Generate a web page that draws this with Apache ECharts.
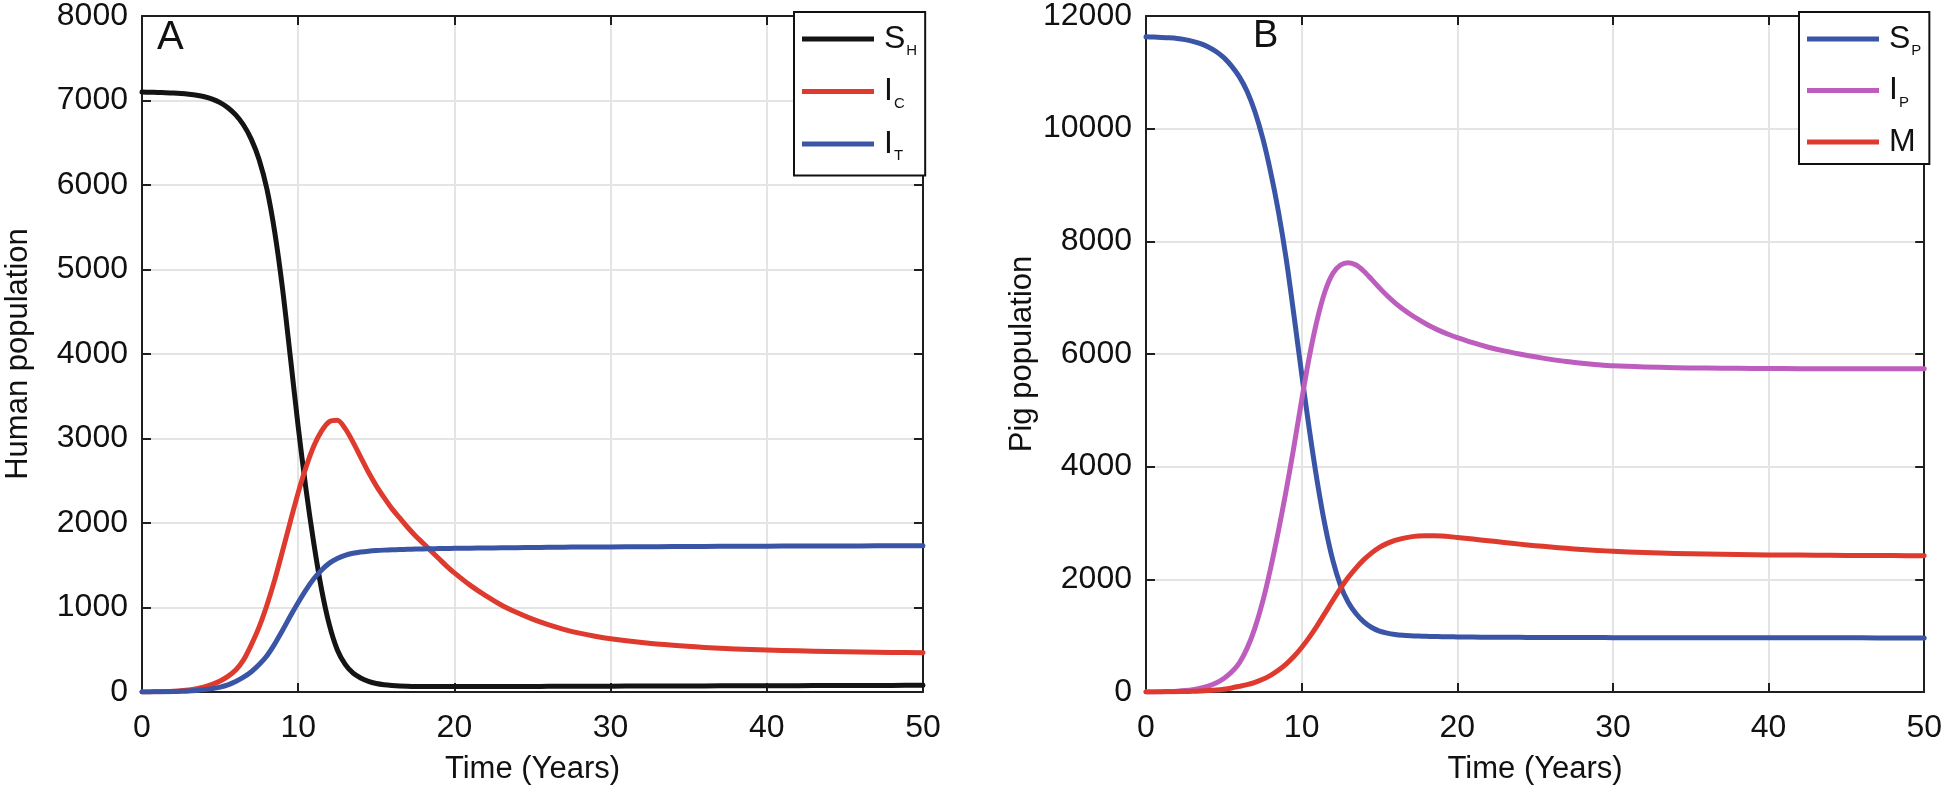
<!DOCTYPE html>
<html>
<head>
<meta charset="utf-8">
<script src="https://cdn.jsdelivr.net/npm/echarts@6/dist/echarts.min.js"></script>
<style>html,body{margin:0;padding:0;background:#fff;}#c{width:1945px;height:792px;}</style>
</head>
<body>
<div id="c"></div>
<script>
// ---- data ----
const tA = [0,0.5,1,1.5,2,2.5,3,3.5,4,4.5,5,5.5,6,6.5,7,7.5,8,8.5,9,9.5,10,10.5,11,11.5,12,12.5,13,13.5,14,14.5,15,15.5,16,16.5,17,17.5,18,18.5,19,19.5,20,21,22,23,24,25,26,27,28,29,30,32,34,36,38,40,42,44,46,48,50];
const SH = [7100,7098,7096,7093,7089,7083,7074,7062,7044,7016,6975,6915,6830,6710,6540,6300,5950,5440,4770,3960,3140,2400,1760,1210,790,500,330,225,165,125,100,85,76,70,67,65,64,64,64,64,64,
            64,65,65,66,66,67,67,68,68,69, 70,71,72,73,74,75,76,77,78,79];
const IC = [0,1,3,6,10,16,25,40,60,90,130,185,260,380,560,770,1030,1330,1670,2020,2360,2660,2910,3090,3200,3215,3120,2960,2780,2600,2440,2300,2170,2060,1950,1850,1760,1670,1580,1490,1410,
            1265,1140,1030,940,862,797,742,697,660,630, 585,552,528,510,497,487,479,473,468,464];
const IT = [0,1,2,3,5,8,12,19,28,40,58,85,125,175,240,325,430,570,730,900,1060,1210,1340,1445,1525,1580,1618,1642,1657,1667,1674,1679,1683,1686,1689,1691,1693,1695,1697,1699,1700,
            1702,1704,1706,1708,1710,1712,1714,1715,1716,1717, 1719,1721,1723,1725,1726,1727,1728,1729,1730,1731];

const tB = [0,0.5,1,1.5,2,2.5,3,3.5,4,4.5,5,5.5,6,6.5,7,7.5,8,8.5,9,9.5,10,10.5,11,11.5,12,12.5,13,13.5,14,14.5,15,15.5,16,16.5,17,17.5,18,18.5,19,19.5,20,21,22,23,24,25,26,27,28,29,30,32,34,36,38,40,42,44,46,48,50];
const SP = [11630,11626,11620,11612,11600,11580,11550,11510,11450,11370,11260,11110,10920,10660,10300,9830,9240,8540,7700,6700,5650,4650,3740,2960,2340,1890,1590,1390,1245,1145,1080,1045,1022,1007,998,992,988,985,982,980,978,
            975,973,971,970,969,968,967,966,966,965, 965,964,963,963,962,962,961,961,960,960];
const IP = [0,2,5,9,15,25,41,66,104,159,239,354,519,779,1139,1609,2189,2849,3569,4349,5179,5959,6609,7109,7429,7579,7619,7579,7469,7324,7174,7034,6909,6799,6701,6613,6533,6461,6397,6341,6291,
            6200,6120,6055,6000,5950,5905,5865,5835,5810,5790, 5770,5758,5750,5745,5742,5740,5740,5740,5740,5740];
const MM = [0,1,2,4,6,9,13,18,25,35,50,72,100,130,170,225,295,385,495,630,790,975,1180,1400,1625,1840,2035,2205,2350,2470,2568,2638,2690,2728,2754,2769,2775,2775,2769,2758,2743,
            2715,2685,2655,2625,2598,2573,2550,2530,2513,2498, 2475,2460,2448,2440,2434,2430,2426,2423,2421,2420];

const xTicks = {min:0, max:50, interval:10};
const yTicksA = {min:0, max:8000, interval:1000};
const yTicksB = {min:0, max:12000, interval:2000};

const panelLabels = ['A','B'];
const yNames = ['Human population','Pig population'];
const xName = 'Time (Years)';
const legendText = {
  'S_H': '{b|S}{s|H}', 'I_C': '{b|I}{s|C}', 'I_T': '{b|I}{s|T}',
  'S_P': '{b|S}{s|P}', 'I_P': '{b|I}{s|P}', 'M': '{b|M}'
};
// ---- chart ----
const FONT = 'Liberation Sans, Arial, Helvetica, sans-serif';
const AX = '#1f1f1f';
const zip = (t, v) => t.map((x, i) => [x, v[i]]);
const plain = (v) => String(v);

function xAxes(gi) {
  return [
    {type:'value', gridIndex:gi, position:'bottom', min:xTicks.min, max:xTicks.max, interval:xTicks.interval,
     name:xName, nameLocation:'middle', nameGap:62,
     nameTextStyle:{fontFamily:FONT, fontSize:31, color:'#111'},
     axisLine:{show:true, onZero:false, lineStyle:{color:AX, width:2}},
     axisTick:{show:true, inside:true, length:9, lineStyle:{color:AX, width:2}},
     axisLabel:{fontFamily:FONT, fontSize:32, color:'#111', margin:20, formatter:plain},
     splitLine:{show:true, lineStyle:{color:'#e4e4e4', width:2}}},
    {type:'value', gridIndex:gi, position:'top', min:xTicks.min, max:xTicks.max, interval:xTicks.interval,
     axisLine:{show:true, onZero:false, lineStyle:{color:AX, width:2}},
     axisTick:{show:true, inside:true, length:9, lineStyle:{color:AX, width:2}},
     axisLabel:{show:false}, splitLine:{show:false}}
  ];
}
function yAxes(gi, tk, nm) {
  return [
    {type:'value', gridIndex:gi, position:'left', min:tk.min, max:tk.max, interval:tk.interval,
     name:nm, nameLocation:'middle', nameGap:108,
     nameTextStyle:{fontFamily:FONT, fontSize:31, color:'#111'},
     axisLine:{show:true, onZero:false, lineStyle:{color:AX, width:2}},
     axisTick:{show:true, inside:true, length:9, lineStyle:{color:AX, width:2}},
     axisLabel:{fontFamily:FONT, fontSize:32, color:'#111', margin:14, formatter:plain},
     splitLine:{show:true, lineStyle:{color:'#e4e4e4', width:2}}},
    {type:'value', gridIndex:gi, position:'right', min:tk.min, max:tk.max, interval:tk.interval,
     axisLine:{show:true, onZero:false, lineStyle:{color:AX, width:2}},
     axisTick:{show:true, inside:true, length:9, lineStyle:{color:AX, width:2}},
     axisLabel:{show:false}, splitLine:{show:false}}
  ];
}
function line(name, data, color, gi) {
  return {type:'line', name:name, xAxisIndex:gi*2, yAxisIndex:gi*2, data:data,
    showSymbol:false, symbol:'none', smooth:0.3,
    lineStyle:{color:color, width:5, cap:'round', join:'round'}, itemStyle:{color:color}, z:3, animation:false};
}
const rich = {
  b:{fontFamily:FONT, fontSize:32, color:'#111', padding:[0,0,0,5]},
  s:{fontFamily:FONT, fontSize:15, color:'#111', padding:[24,0,0,1]}
};
function legend(left, names, pad, gap) {
  return {show:true, orient:'vertical', left:left, top:12, padding:pad, itemGap:gap,
    borderColor:'#111', borderWidth:2, backgroundColor:'#fff',
    icon:'rect', itemWidth:72, itemHeight:5, selectedMode:false,
    data:names, formatter:(n) => legendText[n],
    textStyle:{rich:rich}};
}

const chart = echarts.init(document.getElementById('c'), null, {renderer:'canvas'});
chart.setOption({
  animation:false,
  backgroundColor:'#fff',
  grid:[
    {left:142, top:12, width:781, height:680, containLabel:false},
    {left:1146, top:12, width:780, height:680, containLabel:false}
  ],
  xAxis:[...xAxes(0), ...xAxes(1)],
  yAxis:[...yAxes(0, yTicksA, yNames[0]), ...yAxes(1, yTicksB, yNames[1])],
  legend:[
    legend(794, ['S_H','I_C','I_T'], [11,8,12,8], 17),
    legend(1799, ['S_P','I_P','M'], [11,8,6,8], 16)
  ],
  graphic:[
    {type:'text', left:157, top:18, z:10, style:{text:panelLabels[0], font:'40px ' + FONT, fill:'#111'}},
    {type:'text', left:1253, top:18, z:10, style:{text:panelLabels[1], font:'38px ' + FONT, fill:'#111'}}
  ],
  series:[
    line('S_H', zip(tA, SH), '#141414', 0),
    line('I_C', zip(tA, IC), '#de3a2d', 0),
    line('I_T', zip(tA, IT), '#3a55a6', 0),
    line('S_P', zip(tB, SP), '#3a55a6', 1),
    line('I_P', zip(tB, IP), '#bd5ebe', 1),
    line('M', zip(tB, MM), '#de3a2d', 1)
  ]
});
</script>
</body>
</html>
